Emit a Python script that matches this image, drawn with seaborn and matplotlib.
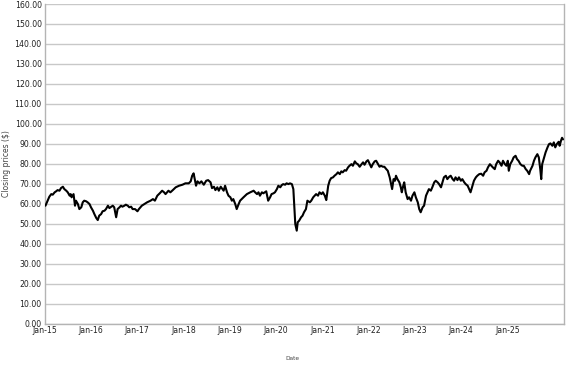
import matplotlib
matplotlib.use("Agg")
import matplotlib.pyplot as plt
import seaborn as sns
import pandas as pd
import numpy as np

# ---- data (decimal year, closing price) ----
years = [
    2015.02, 2015.06, 2015.10, 2015.14, 2015.17, 2015.21, 2015.24, 2015.27, 2015.31, 2015.34,
    2015.38, 2015.41, 2015.45, 2015.48, 2015.52, 2015.54, 2015.56, 2015.60, 2015.63, 2015.65,
    2015.69, 2015.72, 2015.76, 2015.79, 2015.82, 2015.86, 2015.89, 2015.93, 2015.96,
    2016.00, 2016.03, 2016.07, 2016.10, 2016.13, 2016.17, 2016.20, 2016.24, 2016.27, 2016.31,
    2016.34, 2016.38, 2016.41, 2016.44, 2016.48, 2016.51, 2016.55, 2016.58, 2016.61, 2016.65,
    2016.68, 2016.72, 2016.75, 2016.79, 2016.82, 2016.87, 2016.92, 2016.95,
    2017.01, 2017.06, 2017.12, 2017.19, 2017.24, 2017.28, 2017.33, 2017.38, 2017.43, 2017.47,
    2017.50, 2017.56, 2017.60, 2017.65, 2017.71, 2017.78, 2017.85, 2017.91, 2017.98,
    2018.02, 2018.05, 2018.08, 2018.11, 2018.13, 2018.16, 2018.20, 2018.24, 2018.29, 2018.34,
    2018.38, 2018.43, 2018.46, 2018.50, 2018.53, 2018.57, 2018.60, 2018.64, 2018.70, 2018.73,
    2018.77, 2018.80, 2018.84, 2018.87, 2018.90, 2018.94, 2018.97,
    2019.01, 2019.04, 2019.11, 2019.18, 2019.25, 2019.32, 2019.35, 2019.39, 2019.42, 2019.45,
    2019.49, 2019.52, 2019.58, 2019.62, 2019.66, 2019.69, 2019.73, 2019.76, 2019.80, 2019.83,
    2019.87, 2019.90, 2019.93, 2019.97,
    2020.00, 2020.04, 2020.07, 2020.11, 2020.14, 2020.16, 2020.18, 2020.21, 2020.23, 2020.26,
    2020.30, 2020.33, 2020.36, 2020.40, 2020.43, 2020.48, 2020.51, 2020.55, 2020.58, 2020.61,
    2020.65, 2020.68, 2020.72, 2020.75, 2020.79, 2020.82, 2020.86, 2020.89, 2020.92, 2020.96,
    2020.99,
    2021.03, 2021.06, 2021.10, 2021.13, 2021.16, 2021.20, 2021.23, 2021.27, 2021.30, 2021.34,
    2021.37, 2021.41, 2021.44, 2021.47, 2021.51, 2021.54, 2021.58, 2021.61, 2021.65, 2021.68,
    2021.72, 2021.75, 2021.78, 2021.82, 2021.85, 2021.89, 2021.92, 2021.95, 2021.99,
    2022.02, 2022.06, 2022.09, 2022.13, 2022.16, 2022.18, 2022.21, 2022.24, 2022.26, 2022.29,
    2022.33, 2022.36, 2022.38, 2022.41, 2022.43, 2022.46, 2022.50, 2022.53, 2022.57, 2022.60,
    2022.64, 2022.67, 2022.71, 2022.74, 2022.77, 2022.81, 2022.84, 2022.88, 2022.91, 2022.94,
    2022.98,
    2023.01, 2023.05, 2023.08, 2023.12, 2023.15, 2023.19, 2023.22, 2023.25, 2023.29, 2023.32,
    2023.36, 2023.39, 2023.43, 2023.46, 2023.49, 2023.53, 2023.56, 2023.60, 2023.63, 2023.67,
    2023.70, 2023.74, 2023.77, 2023.80, 2023.84, 2023.87, 2023.91, 2023.94, 2023.98,
    2024.02, 2024.06, 2024.09, 2024.13, 2024.16, 2024.20, 2024.23, 2024.26, 2024.30, 2024.33,
    2024.37, 2024.40, 2024.44, 2024.47, 2024.51, 2024.54, 2024.57, 2024.59, 2024.62, 2024.66,
    2024.69, 2024.73, 2024.76, 2024.79, 2024.83, 2024.87, 2024.90, 2024.94, 2024.97,
    2025.01, 2025.03, 2025.08, 2025.11, 2025.14, 2025.18, 2025.21, 2025.24, 2025.26, 2025.28,
    2025.32, 2025.35, 2025.39, 2025.42, 2025.45, 2025.49, 2025.52, 2025.55, 2025.58, 2025.62,
    2025.64, 2025.67, 2025.69, 2025.71,
]

closes = [
    59.0, 61.2, 63.5, 64.8, 64.5, 65.7, 66.2, 66.8, 66.5, 67.8,
    68.5, 67.3, 66.5, 65.7, 64.0, 64.8, 63.2, 64.8, 59.0, 61.5,
    59.8, 57.3, 58.2, 60.7, 61.5, 61.2, 60.7, 59.8, 58.2,
    56.5, 54.8, 52.8, 51.8, 54.0, 54.8, 56.2, 56.5, 57.3, 59.0,
    57.8, 58.5, 59.0, 58.2, 53.2, 57.3, 58.2, 59.0, 58.5, 59.0,
    59.5, 59.0, 58.2, 58.5, 57.3, 57.3, 56.2, 57.3,
    59.0, 59.8, 60.7, 61.5, 62.3, 61.5, 64.0, 65.2, 66.5, 65.7,
    64.8, 66.5, 65.7, 66.8, 68.2, 69.0, 69.5, 70.2, 70.2,
    71.2, 74.0, 75.2, 71.5, 69.0, 71.2, 70.2, 71.2, 69.5, 71.5,
    71.8, 70.7, 67.8, 68.5, 66.8, 68.2, 66.5, 68.5, 66.5, 69.0,
    65.7, 64.0, 63.2, 61.5, 62.3, 59.8, 57.3,
    59.8, 61.5, 63.2, 64.8, 65.7, 66.5, 65.7, 64.8, 65.7, 64.0,
    65.7, 65.2, 66.2, 61.5, 63.2, 64.8, 65.2, 65.7, 67.3, 69.0,
    68.2, 69.3, 69.8, 69.5,
    70.2, 69.8, 70.2, 69.8, 67.3, 58.2, 49.8, 46.5, 50.7, 51.5,
    53.2, 54.0, 55.7, 57.3, 61.5, 60.7, 61.5, 63.2, 64.0, 64.8,
    64.0, 65.7, 64.8, 65.7, 64.0, 61.8, 69.0, 71.5, 72.8, 73.2,
    74.0,
    74.8, 75.7, 74.8, 76.2, 75.7, 76.8, 76.5, 78.2, 79.0, 79.8,
    79.0, 81.2, 80.2, 79.8, 78.5, 79.5, 80.7, 79.5, 81.2, 81.8,
    79.8, 78.2, 79.8, 81.2, 81.5, 79.8, 78.5, 79.0, 78.5,
    78.5, 77.3, 76.5, 73.2, 69.8, 67.3, 72.3, 71.5, 74.0, 72.3,
    70.7, 68.2, 65.7, 69.0, 70.7, 65.7, 62.3, 63.2, 61.5, 64.0,
    65.7, 63.2, 60.7, 57.3, 55.7, 58.2, 59.0, 64.0, 65.7, 67.3,
    66.5,
    68.2, 70.7, 71.5, 70.7, 69.8, 68.2, 70.7, 73.2, 74.0, 72.3,
    73.5, 74.0, 72.3, 71.5, 73.2, 71.8, 73.2, 71.5, 72.3, 70.7,
    69.8, 69.0, 67.3, 65.7, 69.0, 71.5, 73.2, 74.0, 74.8,
    75.0, 74.0, 75.7, 76.5, 78.2, 79.8, 79.0, 78.2, 77.3, 79.8,
    81.5, 80.7, 79.0, 81.5, 79.8, 79.0, 81.5, 76.5, 79.8, 81.5,
    83.2, 84.0, 82.3, 81.5, 79.8, 79.0, 79.0, 77.3, 76.5,
    74.8, 76.5, 79.0, 81.5, 83.2, 84.8, 83.2, 77.3, 72.3, 79.8,
    83.2, 85.7, 88.2, 89.8, 90.2, 89.0, 90.7, 88.2, 89.8, 91.0,
    89.0, 91.7, 93.0, 92.2,
]

tick_labels = ["Jan-15", "Jan-16", "Jan-17", "Jan-18", "Jan-19", "Jan-20",
               "Jan-21", "Jan-22", "Jan-23", "Jan-24", "Jan-25"]
y_ticks = list(range(0, 161, 10))

df = pd.DataFrame({"Date": years, "Close": closes})

sns.set_theme(style="white")
plt.rcParams["font.family"] = ["DejaVu Sans"]

W, H = 577, 367
fig = plt.figure(figsize=(W / 100, H / 100), dpi=100)
ax = fig.add_axes([44.5 / W, 1 - 323.5 / H, (563.5 - 44.5) / W, (323.5 - 4) / H])

sns.lineplot(data=df, x="Date", y="Close", ax=ax, color="black",
             linewidth=1.5, estimator=None, sort=False, zorder=3)

xmin, xmax = 2015.0, 2025.72
ax.set_xlim(xmin, xmax)
ax.set_ylim(0, 160)

step = (xmax - xmin) * 46.3 / 519.0
ax.set_xticks([xmin + i * step for i in range(len(tick_labels))])
ax.set_xticklabels(tick_labels)
ax.set_yticks(y_ticks)
ax.set_yticklabels([f"{v:.2f}" for v in y_ticks])

ax.tick_params(axis="both", length=0, labelsize=5.6, colors="#222222")
ax.tick_params(axis="x", pad=2)
ax.tick_params(axis="y", pad=2)

ax.grid(axis="y", color="#c8c8c8", linewidth=1.0)
ax.grid(axis="x", visible=False)
ax.set_axisbelow(True)

for side in ["left", "bottom", "right"]:
    ax.spines[side].set_visible(True)
    ax.spines[side].set_color("#b4b4b4")
    ax.spines[side].set_linewidth(1.0)
ax.spines["top"].set_visible(False)

ax.set_xlabel("")
ax.set_ylabel("Closing prices ($)", fontsize=5.5, color="#444444")
ax.yaxis.set_label_coords(-0.064, 0.5)

fig.text(292 / W, 1 - 358 / H, "Date", ha="center", va="center",
         fontsize=4.2, color="#444444")

fig.savefig("out.png", dpi=100)
